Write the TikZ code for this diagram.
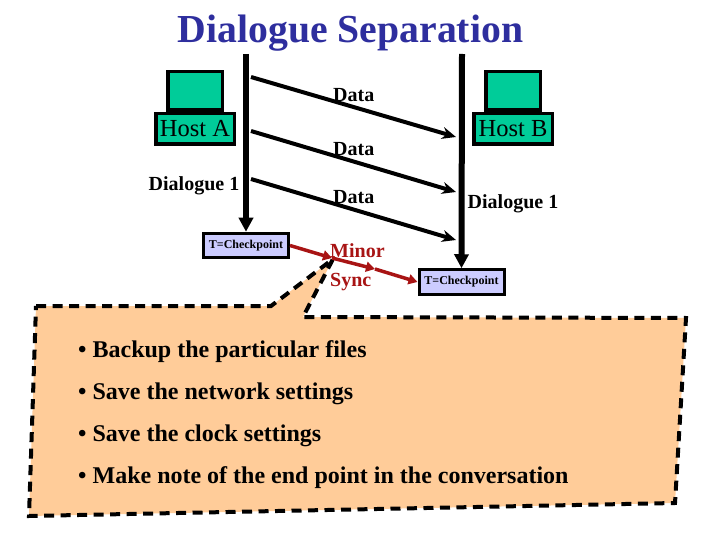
\documentclass[tikz,border=0pt]{standalone}
\usepackage{fontspec}
\setmainfont{Liberation Serif}
\usepackage{xcolor}
\usepackage{tikz}
\usetikzlibrary{arrows.meta,positioning}
\definecolor{hostgreen}{HTML}{00CC99}
\definecolor{ckfill}{HTML}{CCCCFF}
\definecolor{noteorange}{HTML}{FFCC99}
\definecolor{titleblue}{HTML}{2E2E9E}
\definecolor{syncred}{HTML}{A81414}
\newcommand{\fsz}[2]{\fontsize{#1}{#2}\selectfont}

\begin{document}
\begin{tikzpicture}[x=1pt,y=-1pt,
  host/.style={draw=black,fill=hostgreen,line width=3.5pt,minimum width=78.5pt,minimum height=30.5pt,inner sep=0pt,font=\fsz{24.5}{26}},
  screen/.style={draw=black,fill=hostgreen,line width=3.5pt,minimum width=54.5pt,minimum height=38.5pt,inner sep=0pt},
  ck/.style={draw=black,fill=ckfill,line width=3pt,minimum width=85pt,minimum height=24.5pt,inner sep=0pt,font=\bfseries\fsz{12}{14}},
  lbl/.style={inner sep=0pt,font=\fsz{20}{22}\bfseries},
  life/.style={line width=6pt,-{Triangle[length=14pt,width=14pt]}},
  msg/.style={line width=4pt,-{Stealth[length=14pt,width=12pt]}},
  sync/.style={draw=syncred,line width=3.5pt,-{Triangle[length=9pt,width=10pt]}},
  note/.style={draw=black,fill=noteorange,line width=4pt,dash pattern=on 10pt off 6.5pt}]
  \useasboundingbox (0,0) rectangle (720,540);

  \node[inner sep=0pt,text=titleblue,font=\bfseries\fsz{39.7}{44}] (ttl) at (350.5,33) {Dialogue Separation};

  \node[host] (hsa) at (195,129) {\raisebox{-1pt}{Host A}};
  \node[screen,above=0pt of hsa] (sca) {};
  \node[host] (hsb) at (513,129) {\raisebox{-1pt}{Host B}};
  \node[screen,above=0pt of hsb] (scb) {};

  \node[ck] (cka) at (246,245.5) {T=Checkpoint};
  \node[ck] (ckb) at (461.5,282) {T=Checkpoint};

  \coordinate (topa) at (246,54);
  \coordinate (topb) at (462,54);
  \draw[life] (topa) -- (cka.north);
  \draw[life] (topb) -- (ckb.north);

  \coordinate (d1a) at (251,77);  \coordinate (d1b) at (456,137);
  \coordinate (d2a) at (251,131); \coordinate (d2b) at (456,192);
  \coordinate (d3a) at (251,179); \coordinate (d3b) at (456,240);
  \draw[msg] (d1a) -- (d1b);
  \draw[msg] (d2a) -- (d2b);
  \draw[msg] (d3a) -- (d3b);

  \node[lbl,anchor=west] (da1) at (333,95) {Data};
  \node[lbl,anchor=west] (da2) at (333,149) {Data};
  \node[lbl,anchor=west] (da3) at (333,197) {Data};
  \node[lbl] (dga) at (194,186) {Dialogue 1};
  \node[lbl] (dgb) at (513,204) {Dialogue 1};

  % callout first, the red line runs over its tip
  \draw[note] (36,306) -- (271,306) -- (333,259) -- (303,317) -- (686,318) -- (675,503) -- (29,516) -- cycle;

  \coordinate (sy1) at (332,258);
  \coordinate (sy2) at (375,269);
  \draw[sync] (cka.east) -- (sy1);
  \draw[sync] (sy1) -- (sy2);
  \draw[sync] (sy2) -- (ckb.west);
  \node[lbl,anchor=west,text=syncred] (mnr) at (330,251) {Minor};
  \node[lbl,anchor=west,text=syncred] (syn) at (330,282) {Sync};

  \node[anchor=west,align=left,inner sep=0pt,font=\bfseries\fsz{24}{42}] (bul) at (78,415)
    {• Backup the particular files\\• Save the network settings\\• Save the clock settings\\• Make note of the end point in the conversation};
\end{tikzpicture}
\end{document}
